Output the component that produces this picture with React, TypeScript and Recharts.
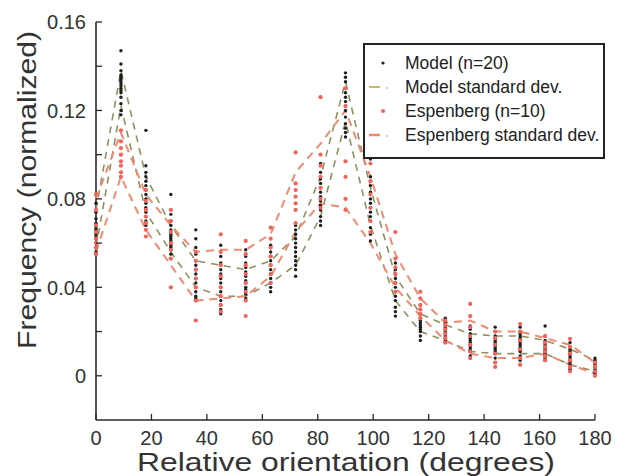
import React from 'react';
import { ScatterChart, Scatter, XAxis, YAxis } from 'recharts';

const BINS = [0, 9, 18, 27, 36, 45, 54, 63, 72, 81, 90, 99, 108, 117, 126, 135, 144, 153, 162, 171, 180];

const MODEL_VALUES: number[][] = [
  [0.078, 0.074, 0.071, 0.069, 0.067, 0.066, 0.065, 0.064, 0.063, 0.062, 0.06, 0.058, 0.056, 0.055],
  [0.147, 0.141, 0.138, 0.136, 0.135, 0.134, 0.133, 0.132, 0.131, 0.13, 0.129, 0.128, 0.126, 0.123, 0.12, 0.118],
  [0.111, 0.095, 0.092, 0.09, 0.088, 0.086, 0.084, 0.082, 0.08, 0.078, 0.076, 0.074, 0.072, 0.07, 0.068],
  [0.082, 0.073, 0.07, 0.068, 0.066, 0.064, 0.063, 0.062, 0.061, 0.06, 0.059, 0.058, 0.057, 0.055],
  [0.066, 0.062, 0.058, 0.055, 0.052, 0.05, 0.048, 0.046, 0.044, 0.042, 0.04, 0.038, 0.036, 0.035],
  [0.059, 0.054, 0.051, 0.048, 0.046, 0.044, 0.042, 0.04, 0.038, 0.036, 0.034, 0.032, 0.03, 0.028],
  [0.057, 0.054, 0.051, 0.049, 0.047, 0.045, 0.043, 0.042, 0.04, 0.039, 0.037, 0.035],
  [0.059, 0.056, 0.054, 0.052, 0.05, 0.048, 0.046, 0.044, 0.042, 0.04, 0.038],
  [0.068, 0.066, 0.064, 0.062, 0.06, 0.058, 0.056, 0.054, 0.052, 0.05, 0.048, 0.045],
  [0.096, 0.092, 0.089, 0.087, 0.085, 0.083, 0.081, 0.079, 0.077, 0.075, 0.072, 0.07, 0.068],
  [0.137, 0.135, 0.133, 0.13, 0.128, 0.126, 0.124, 0.122, 0.12, 0.117, 0.114, 0.112, 0.11, 0.108],
  [0.098, 0.09, 0.086, 0.083, 0.08, 0.078, 0.076, 0.074, 0.072, 0.07, 0.067, 0.064, 0.061],
  [0.051, 0.048, 0.046, 0.044, 0.042, 0.04, 0.038, 0.036, 0.034, 0.031, 0.029, 0.027],
  [0.032, 0.03, 0.028, 0.026, 0.025, 0.024, 0.023, 0.022, 0.021, 0.02, 0.018, 0.016],
  [0.026, 0.024, 0.023, 0.022, 0.021, 0.02, 0.019, 0.018, 0.017, 0.016, 0.015],
  [0.0225, 0.021, 0.019, 0.018, 0.017, 0.016, 0.015, 0.014, 0.013, 0.012, 0.011, 0.009, 0.008],
  [0.022, 0.02, 0.018, 0.017, 0.016, 0.015, 0.014, 0.013, 0.012, 0.011, 0.01, 0.008, 0.006],
  [0.022, 0.02, 0.019, 0.018, 0.017, 0.016, 0.015, 0.014, 0.013, 0.012, 0.011, 0.009, 0.007, 0.005],
  [0.0225, 0.018, 0.016, 0.015, 0.014, 0.013, 0.012, 0.011, 0.01, 0.009, 0.008, 0.007],
  [0.015, 0.013, 0.012, 0.011, 0.01, 0.009, 0.008, 0.007, 0.006, 0.005, 0.004, 0.003],
  [0.008, 0.007, 0.006, 0.005, 0.004, 0.003, 0.002, 0.001],
];

const ESP_VALUES: number[][] = [
  [0.082, 0.075, 0.068, 0.065, 0.062, 0.06, 0.058, 0.055],
  [0.111, 0.106, 0.103, 0.1, 0.097, 0.095, 0.092, 0.09],
  [0.084, 0.079, 0.075, 0.072, 0.069, 0.066, 0.063],
  [0.075, 0.07, 0.065, 0.06, 0.057, 0.053, 0.04],
  [0.056, 0.052, 0.048, 0.044, 0.04, 0.034, 0.025],
  [0.064, 0.056, 0.05, 0.045, 0.04, 0.036, 0.032, 0.029],
  [0.061, 0.055, 0.05, 0.046, 0.042, 0.038, 0.034, 0.027],
  [0.067, 0.062, 0.058, 0.054, 0.05, 0.046, 0.042],
  [0.101, 0.087, 0.084, 0.081, 0.078, 0.075, 0.069],
  [0.126, 0.1, 0.095, 0.09, 0.085, 0.08, 0.076],
  [0.13, 0.122, 0.097, 0.09, 0.08, 0.075],
  [0.096, 0.088, 0.082, 0.076, 0.07, 0.065],
  [0.065, 0.053, 0.049, 0.046, 0.042, 0.038],
  [0.038, 0.035, 0.032, 0.03, 0.028, 0.026],
  [0.025, 0.023, 0.021, 0.019, 0.017, 0.015],
  [0.0325, 0.027, 0.022, 0.018, 0.014, 0.011, 0.008],
  [0.02, 0.017, 0.014, 0.01, 0.006, 0.004],
  [0.0234, 0.02, 0.016, 0.012, 0.008, 0.005],
  [0.018, 0.015, 0.013, 0.011, 0.009, 0.007],
  [0.0167, 0.013, 0.01, 0.007, 0.004, 0.002],
  [0.006, 0.004, 0.002, 0.0],
];

const MODEL_SD_UPPER = [0.075, 0.138, 0.09, 0.068, 0.052, 0.05, 0.048, 0.052, 0.063, 0.09, 0.133, 0.085, 0.045, 0.028, 0.023, 0.019, 0.018, 0.018, 0.016, 0.012, 0.007];
const MODEL_SD_LOWER = [0.058, 0.122, 0.074, 0.056, 0.04, 0.036, 0.036, 0.042, 0.05, 0.072, 0.115, 0.068, 0.034, 0.02, 0.016, 0.011, 0.01, 0.01, 0.01, 0.005, 0.002];
const ESP_SD_UPPER = [0.08, 0.11, 0.082, 0.068, 0.056, 0.057, 0.057, 0.064, 0.092, 0.105, 0.12, 0.09, 0.055, 0.035, 0.024, 0.025, 0.02, 0.02, 0.017, 0.014, 0.006];
const ESP_SD_LOWER = [0.056, 0.09, 0.066, 0.05, 0.034, 0.035, 0.036, 0.045, 0.065, 0.078, 0.076, 0.06, 0.04, 0.027, 0.016, 0.01, 0.008, 0.008, 0.01, 0.005, 0.001];

const X_TICKS = [0, 20, 40, 60, 80, 100, 120, 140, 160, 180];
const Y_TICKS = [0, 0.02, 0.04, 0.06, 0.08, 0.1, 0.12, 0.14, 0.16];
const Y_LABELS: Record<string, string> = { '0': '0', '0.04': '0.04', '0.08': '0.08', '0.12': '0.12', '0.16': '0.16' };

const LEGEND_ITEMS = ['Model (n=20)', 'Model standard dev.', 'Espenberg (n=10)', 'Espenberg standard dev.'];

const FONT = '"Liberation Sans", Arial, Helvetica, sans-serif';
const AXIS_COLOR = '#2a2a2a';
const MODEL_DOT = '#1e1e1e';
const ESP_DOT = '#f0645a';
const MODEL_SD = '#8f9060';
const ESP_SD = '#f08a72';

const toPoints = (values: number[][]) =>
  values.flatMap((col, i) => col.map((v) => ({ x: BINS[i], y: v })));
const toLine = (vals: number[]) => vals.map((v, i) => ({ x: BINS[i], y: v }));

const modelPts = toPoints(MODEL_VALUES);
const espPts = toPoints(ESP_VALUES);

const YTick = (props: any) => {
  const { x, y, payload } = props;
  const key = String(Math.round(payload.value * 100) / 100);
  const label = Y_LABELS[key];
  const ax = x + 10;
  return (
    <g>
      <line x1={ax} x2={ax + 6} y1={y} y2={y} stroke={AXIS_COLOR} strokeWidth={1.3} />
      {label !== undefined && (
        <text x={x} y={y} dy="0.36em" textAnchor="end" fontFamily={FONT} fontSize={20} fill="#333">
          {label}
        </text>
      )}
    </g>
  );
};

const XTick = (props: any) => {
  const { x, y, payload } = props;
  const ay = y - 10;
  return (
    <g>
      <line x1={x} x2={x} y1={ay} y2={ay - 6} stroke={AXIS_COLOR} strokeWidth={1.3} />
      <text x={x} y={y} dy="0.74em" textAnchor="middle" fontFamily={FONT} fontSize={20} fill="#333">
        {payload.value}
      </text>
    </g>
  );
};

const ModelDot = (props: any) => <circle cx={props.cx} cy={props.cy} r={1.7} fill={MODEL_DOT} />;
const EspDot = (props: any) => <circle cx={props.cx} cy={props.cy} r={2.1} fill={ESP_DOT} />;
const NoDot = () => null;

const LegendBox = () => (
  <div
    style={{
      position: 'absolute',
      left: 363,
      top: 43,
      width: 238,
      height: 106,
      border: '2px solid #222',
      background: '#fff',
      fontFamily: FONT,
      fontSize: 17.5,
      color: '#222',
      boxSizing: 'content-box',
      paddingTop: 6,
    }}
  >
    {LEGEND_ITEMS.map((t, i) => (
      <div key={t} style={{ display: 'flex', alignItems: 'center', height: 24, lineHeight: '24px' }}>
        <svg width={40} height={24} style={{ flex: 'none' }}>
          {i === 0 && <circle cx={18} cy={12} r={1.6} fill={MODEL_DOT} />}
          {i === 1 && (
            <g>
              <line x1={4} x2={15} y1={12} y2={12} stroke="#d2b46a" strokeWidth={2} />
              <circle cx={22} cy={13} r={0.9} fill="#bbb" />
            </g>
          )}
          {i === 2 && <circle cx={18} cy={12} r={2} fill={ESP_DOT} />}
          {i === 3 && (
            <g>
              <line x1={4} x2={15} y1={12} y2={12} stroke={ESP_SD} strokeWidth={2.5} />
              <circle cx={22} cy={13} r={0.9} fill="#bbb" />
            </g>
          )}
        </svg>
        <span>{t}</span>
      </div>
    ))}
  </div>
);

export default function App() {
  return (
    <div style={{ position: 'absolute', left: 0, top: 0, width: 630, height: 476, background: '#fff' }}>
      <ScatterChart width={630} height={476} margin={{ top: 22, right: 35, bottom: 0, left: 0 }}>
        <XAxis
          type="number"
          dataKey="x"
          domain={[0, 180]}
          ticks={X_TICKS}
          height={56}
          tickSize={0}
          tickMargin={10}
          tickLine={false}
          tick={<XTick />}
          axisLine={{ stroke: AXIS_COLOR, strokeWidth: 1.6 }}
          label={{
            content: () => (
              <text x={346} y={471} textAnchor="middle" fontFamily={FONT} fontSize={25} fill="#333" textLength={418} lengthAdjust="spacingAndGlyphs">
                Relative orientation (degrees)
              </text>
            ),
          }}
        />
        <YAxis
          type="number"
          dataKey="y"
          domain={[-0.02, 0.16]}
          ticks={Y_TICKS}
          width={96}
          tickSize={0}
          tickMargin={10}
          tickLine={false}
          tick={<YTick />}
          axisLine={{ stroke: AXIS_COLOR, strokeWidth: 1.6 }}
          label={{
            content: () => (
              <text
                x={36}
                y={190}
                transform="rotate(-90 36 190)"
                textAnchor="middle"
                fontFamily={FONT}
                fontSize={25}
                fill="#333"
                textLength={318}
                lengthAdjust="spacingAndGlyphs"
              >
                Frequency (normalized)
              </text>
            ),
          }}
        />
        <Scatter data={toLine(MODEL_SD_UPPER)} line={{ stroke: MODEL_SD, strokeWidth: 1.6, strokeDasharray: '7 6' }} shape={<NoDot />} isAnimationActive={false} legendType="none" />
        <Scatter data={toLine(MODEL_SD_LOWER)} line={{ stroke: MODEL_SD, strokeWidth: 1.6, strokeDasharray: '7 6' }} shape={<NoDot />} isAnimationActive={false} legendType="none" />
        <Scatter data={toLine(ESP_SD_UPPER)} line={{ stroke: ESP_SD, strokeWidth: 2, strokeDasharray: '8 6' }} shape={<NoDot />} isAnimationActive={false} legendType="none" />
        <Scatter data={toLine(ESP_SD_LOWER)} line={{ stroke: ESP_SD, strokeWidth: 2, strokeDasharray: '8 6' }} shape={<NoDot />} isAnimationActive={false} legendType="none" />
        <Scatter data={modelPts} shape={<ModelDot />} isAnimationActive={false} />
        <Scatter data={espPts} shape={<EspDot />} isAnimationActive={false} />
      </ScatterChart>
      <LegendBox />
    </div>
  );
}
